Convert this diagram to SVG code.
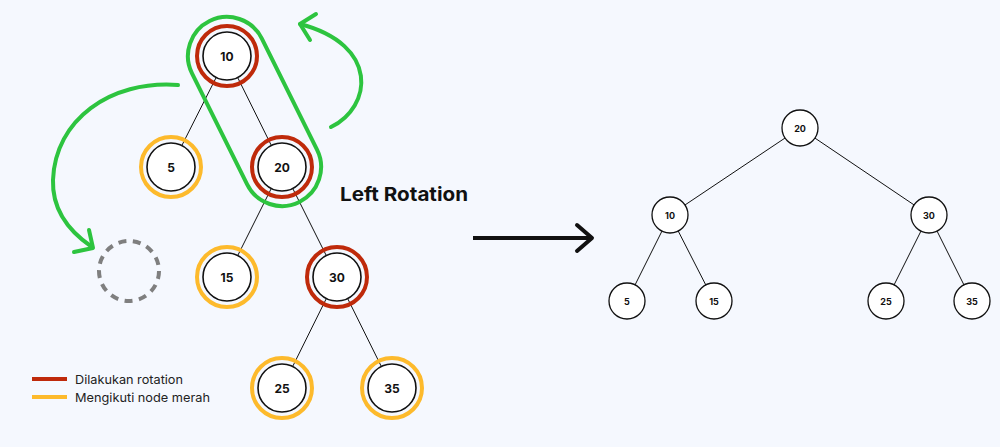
<svg xmlns="http://www.w3.org/2000/svg" width="1000" height="447" viewBox="0 0 1000 447">
<defs>
<style>
.bg{fill:#F5F8FE}
.edge{stroke:#111;stroke-width:1;fill:none}
.inner{fill:#fff;stroke:#111;stroke-width:1.6}
.red{fill:none;stroke:#BF2A0B;stroke-width:4}
.yel{fill:none;stroke:#FDBA2C;stroke-width:4}
.lbl{font-family:Inter,"Open Sans",sans-serif;font-weight:700;font-size:12px;fill:#111;text-anchor:middle;dominant-baseline:central}
.sm{font-family:Inter,"Open Sans",sans-serif;font-weight:700;font-size:9px;fill:#111;text-anchor:middle;dominant-baseline:central}
.rn{fill:#fff;stroke:#111;stroke-width:1.3}
.green{fill:none;stroke:#2DC43F;stroke-width:4;stroke-linecap:round;stroke-linejoin:round}
.legend{font-family:Inter,"Open Sans",sans-serif;font-size:12px;fill:#222}
</style>
</defs>
<rect class="bg" x="0" y="0" width="1000" height="447"/>

<g id="connectors">
<line class="edge" x1="227" y1="56" x2="171" y2="167"/>
<line class="edge" x1="227" y1="56" x2="282" y2="167"/>
<line class="edge" x1="282" y1="167" x2="227" y2="277"/>
<line class="edge" x1="282" y1="167" x2="337" y2="277"/>
<line class="edge" x1="337" y1="277" x2="282" y2="388"/>
<line class="edge" x1="337" y1="277" x2="392" y2="388"/>
<line class="edge" x1="800" y1="128" x2="670" y2="215"/>
<line class="edge" x1="800" y1="128" x2="929" y2="215"/>
<line class="edge" x1="670" y1="215" x2="627" y2="301"/>
<line class="edge" x1="670" y1="215" x2="714" y2="301"/>
<line class="edge" x1="929" y1="215" x2="886" y2="301"/>
<line class="edge" x1="929" y1="215" x2="972" y2="301"/>
</g>

<g id="node-10"><circle class="inner" cx="227" cy="56" r="24"/><circle class="red" cx="227" cy="56" r="30"/><text class="lbl" x="227" y="56">10</text></g>
<g id="node-5"><circle class="inner" cx="171" cy="167" r="24"/><circle class="yel" cx="171" cy="167" r="30"/><text class="lbl" x="171" y="167">5</text></g>
<g id="node-20"><circle class="inner" cx="282" cy="167" r="24"/><circle class="red" cx="282" cy="167" r="30"/><text class="lbl" x="282" y="167">20</text></g>
<g id="node-15"><circle class="inner" cx="227" cy="277" r="24"/><circle class="yel" cx="227" cy="277" r="30"/><text class="lbl" x="227" y="277">15</text></g>
<g id="node-30"><circle class="inner" cx="337" cy="277" r="24"/><circle class="red" cx="337" cy="277" r="30"/><text class="lbl" x="337" y="277">30</text></g>
<g id="node-25"><circle class="inner" cx="282" cy="388" r="24"/><circle class="yel" cx="282" cy="388" r="30"/><text class="lbl" x="282" y="388">25</text></g>
<g id="node-35"><circle class="inner" cx="392" cy="388" r="24"/><circle class="yel" cx="392" cy="388" r="30"/><text class="lbl" x="392" y="388">35</text></g>

<g id="empty-slot"><circle cx="129" cy="271" r="30" fill="none" stroke="#7F7F7F" stroke-width="4" stroke-dasharray="8 6.5"/></g>

<g id="rotation-loop"><rect class="green" transform="translate(254.5 111.5) rotate(63.6)" x="-101" y="-39" width="202" height="78" rx="39"/></g>

<g id="arc-right">
<path class="green" d="M331,127 C372,107 380,45 300,24"/>
<path class="green" d="M316,14 L300,24 L310,40"/>
</g>
<g id="arc-left">
<path class="green" d="M178,85 C110,80 55,120 53,180 C52,210 70,232 92,247"/>
<path class="green" d="M74,252 L93,248 L89,230"/>
</g>

<g id="title"><text x="340" y="201" font-family="Inter,'Open Sans',sans-serif" font-weight="700" font-size="19" fill="#111" textLength="128" lengthAdjust="spacingAndGlyphs">Left Rotation</text></g>

<g id="main-arrow">
<line x1="473" y1="238" x2="590" y2="238" stroke="#111" stroke-width="4"/>
<path d="M577,225 L592,238 L577,251" fill="none" stroke="#111" stroke-width="4" stroke-linecap="round" stroke-linejoin="round"/>
</g>

<g id="r-node-20"><circle class="rn" cx="800" cy="128" r="18"/><text class="sm" x="800" y="128">20</text></g>
<g id="r-node-10"><circle class="rn" cx="670" cy="215" r="18"/><text class="sm" x="670" y="215">10</text></g>
<g id="r-node-30"><circle class="rn" cx="929" cy="215" r="18"/><text class="sm" x="929" y="215">30</text></g>
<g id="r-node-5"><circle class="rn" cx="627" cy="301" r="18"/><text class="sm" x="627" y="301">5</text></g>
<g id="r-node-15"><circle class="rn" cx="714" cy="301" r="18"/><text class="sm" x="714" y="301">15</text></g>
<g id="r-node-25"><circle class="rn" cx="886" cy="301" r="18"/><text class="sm" x="886" y="301">25</text></g>
<g id="r-node-35"><circle class="rn" cx="972" cy="301" r="18"/><text class="sm" x="972" y="301">35</text></g>

<g id="legend">
<line x1="32" y1="379" x2="67" y2="379" stroke="#BF2A0B" stroke-width="4"/>
<text class="legend" x="75" y="383.5" textLength="108" lengthAdjust="spacingAndGlyphs">Dilakukan rotation</text>
<line x1="32" y1="397" x2="67" y2="397" stroke="#FDBA2C" stroke-width="4"/>
<text class="legend" x="75" y="401.5" textLength="135" lengthAdjust="spacingAndGlyphs">Mengikuti node merah</text>
</g>
</svg>
